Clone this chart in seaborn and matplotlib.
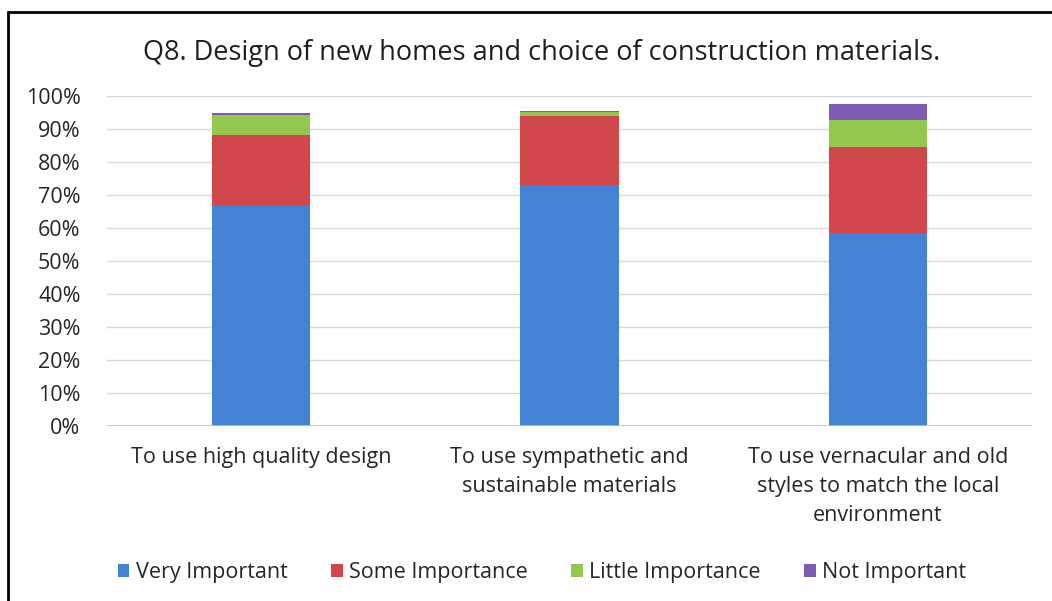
import matplotlib
matplotlib.use("Agg")
import matplotlib.pyplot as plt
from matplotlib.lines import Line2D
from matplotlib.patches import Patch
import seaborn as sns
import pandas as pd
import numpy as np

# Survey responses, percent of respondents
categories = [
    "To use high quality design",
    "To use sympathetic and\nsustainable materials",
    "To use vernacular and old\nstyles to match the local\nenvironment",
]
series_names = ["Very Important", "Some Importance", "Little Importance", "Not Important"]
very_important = [66.7, 73.0, 58.5]
some_importance = [21.5, 21.0, 26.1]
little_importance = [6.0, 1.0, 8.0]
not_important = [0.6, 0.5, 5.0]
colors = ["#4283D3", "#D2474C", "#93C74E", "#7D5CB5"]

sns.set_theme(style="white")
plt.rcParams["font.family"] = ["Open Sans", "DejaVu Sans"]

values = [very_important, some_importance, little_importance, not_important]
cum = np.cumsum(np.array(values), axis=0)

fig = plt.figure(figsize=(10.52, 6.01), dpi=100)
ax = fig.add_axes([0.1017, 0.2912, 0.8793, 0.5491])

# Stacked bars: draw cumulative totals from the top segment down
for i in range(len(series_names) - 1, -1, -1):
    df = pd.DataFrame({"category": categories, "value": cum[i]})
    sns.barplot(data=df, x="category", y="value", color=colors[i],
                width=0.32, saturation=1, linewidth=0, ax=ax, zorder=3)

ax.set_ylim(0, 100)
ax.set_xlim(-0.5, 2.5)
ax.set_yticks(np.arange(0, 101, 10))
ax.set_yticklabels([f"{t}%" for t in range(0, 101, 10)], fontsize=15.5, color="#262626")
ax.set_xticks(range(3))
ax.set_xticklabels(categories, fontsize=15.5, color="#262626", linespacing=1.5,
                   va="top")
ax.tick_params(axis="x", pad=15, length=0)
ax.tick_params(axis="y", pad=19, length=0)
ax.set_xlabel("")
ax.set_ylabel("")
ax.grid(axis="y", color="#d9d9d9", linewidth=1, zorder=0)
ax.set_axisbelow(True)
for s in ax.spines.values():
    s.set_visible(False)
ax.axhline(0, color="#bfbfbf", linewidth=1.2, zorder=4)

fig.text(0.515, 0.912, "Q8. Design of new homes and choice of construction materials.",
         ha="center", va="center", fontsize=19.5, color="#1f1f1f")

handles = [Patch(facecolor=c, edgecolor="none") for c in colors]
fig.legend(handles, series_names, loc="center", bbox_to_anchor=(0.515, 0.048),
           ncol=4, frameon=False, fontsize=15.5, handlelength=0.55, handleheight=0.55,
           handletextpad=0.3, columnspacing=2.0, labelcolor="#262626")

# Chart frame: top and left edges
fig.add_artist(Line2D([0.0076, 1.0], [0.980, 0.980], color="black", linewidth=2,
                      transform=fig.transFigure))
fig.add_artist(Line2D([0.0076, 0.0076], [0.0, 0.980], color="black", linewidth=2,
                      transform=fig.transFigure))

fig.savefig("out.png", dpi=100)
